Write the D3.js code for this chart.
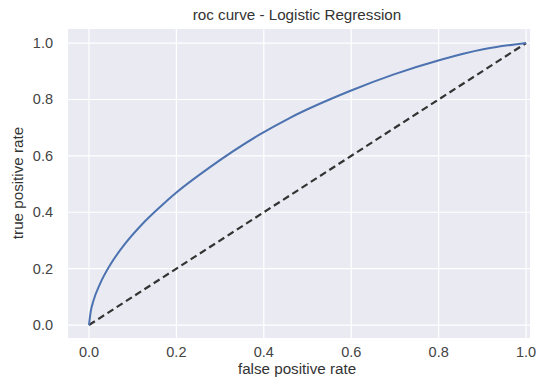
<!DOCTYPE html>
<html><head><meta charset="utf-8">
<script src="https://cdn.jsdelivr.net/npm/d3@7"></script>
<style>body{margin:0;background:#fff;} text{font-family:"Liberation Sans",Arial,sans-serif;}</style>
</head><body>
<svg id="c" width="539" height="392"></svg>
<script>
const fpr = [0, 0.004, 0.01, 0.025, 0.048, 0.086, 0.12, 0.162, 0.2, 0.277, 0.39, 0.46, 0.597, 0.696, 0.803, 0.902, 1.0];
const tpr = [0, 0.048, 0.085, 0.145, 0.212, 0.295, 0.355, 0.418, 0.47, 0.56, 0.675, 0.735, 0.83, 0.888, 0.94, 0.978, 1.0];
const diagX = [0, 1];
const diagY = [0, 1];
const xTicks = [0, 0.2, 0.4, 0.6, 0.8, 1.0];
const yTicks = [0, 0.2, 0.4, 0.6, 0.8, 1.0];
const title = "roc curve - Logistic Regression";
const xLabel = "false positive rate";
const yLabel = "true positive rate";

const svg = d3.select("#c");
const x = d3.scaleLinear().domain([-0.048, 1.009]).range([68, 530]);
const y = d3.scaleLinear().domain([-0.046, 1.05]).range([338, 29]);

svg.append("rect").attr("x", x.range()[0]).attr("y", y.range()[1])
  .attr("width", x.range()[1]-x.range()[0]).attr("height", y.range()[0]-y.range()[1])
  .attr("fill", "#eaeaf2");

const g = svg.append("g");
g.selectAll(".vx").data(xTicks).join("line")
  .attr("x1", d=>x(d)).attr("x2", d=>x(d)).attr("y1", y.range()[1]).attr("y2", y.range()[0])
  .attr("stroke", "#fff").attr("stroke-width", 1.2);
g.selectAll(".hy").data(yTicks).join("line")
  .attr("y1", d=>y(d)).attr("y2", d=>y(d)).attr("x1", x.range()[0]).attr("x2", x.range()[1])
  .attr("stroke", "#fff").attr("stroke-width", 1.2);

const fmt = d3.format(".1f");
svg.append("g").selectAll("text").data(xTicks).join("text")
  .attr("x", d=>x(d)).attr("y", 357).attr("text-anchor", "middle")
  .attr("font-size", 14.5).attr("fill", "#444").text(d=>fmt(d));
svg.append("g").selectAll("text").data(yTicks).join("text")
  .attr("x", 53).attr("y", d=>y(d)+5).attr("text-anchor", "end")
  .attr("font-size", 14.5).attr("fill", "#444").text(d=>fmt(d));

svg.append("text").attr("x", 297).attr("y", 20).attr("text-anchor", "middle")
  .attr("font-size", 15.2).attr("fill", "#333").text(title);
svg.append("text").attr("x", 297).attr("y", 374).attr("text-anchor", "middle")
  .attr("font-size", 15.2).attr("fill", "#333").text(xLabel);
svg.append("text").attr("transform", "translate(23,183) rotate(-90)").attr("text-anchor", "middle")
  .attr("font-size", 15.2).attr("fill", "#333").text(yLabel);

const line = d3.line().x(d=>x(d[0])).y(d=>y(d[1])).curve(d3.curveMonotoneX);
svg.append("path").datum(diagX.map((v,i)=>[v, diagY[i]]))
  .attr("d", d3.line().x(d=>x(d[0])).y(d=>y(d[1])))
  .attr("fill", "none").attr("stroke", "#333").attr("stroke-width", 2.2)
  .attr("stroke-dasharray", "7,4");
svg.append("path").datum(fpr.map((v,i)=>[v, tpr[i]]))
  .attr("d", line).attr("fill", "none").attr("stroke", "#4c72b0").attr("stroke-width", 2);
</script>
</body></html>
